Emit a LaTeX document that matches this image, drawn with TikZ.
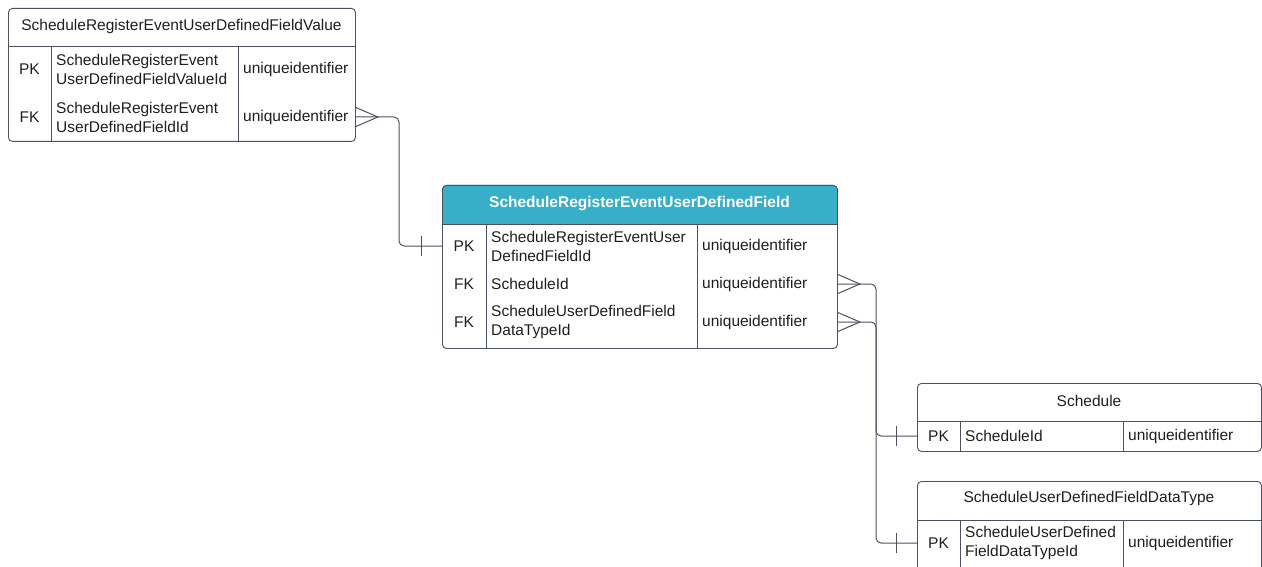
\documentclass[tikz,border=0pt]{standalone}
\usepackage{fontspec}
\setmainfont{Liberation Sans}
\usepackage{tikz}
\usetikzlibrary{calc}
\definecolor{erline}{HTML}{4B515D}
\definecolor{erhead}{HTML}{38AFC8}
\definecolor{ertext}{HTML}{1E1E1E}

\begin{document}
\begin{tikzpicture}[x=1pt,y=-1pt,
		tablebox/.style={draw=erline,line width=0.9pt,rounded corners=4pt,anchor=north west,inner sep=0pt},
		tablerule/.style={draw=erline,line width=0.9pt},
		tablehead/.style={font=\fontsize{15.5}{19}\selectfont,text=ertext},
		keycell/.style={font=\fontsize{15.5}{19}\selectfont,text=ertext},
		fieldcell/.style={anchor=west,align=left,inner sep=0pt,font=\fontsize{15.5}{19}\selectfont,text=ertext},
		relline/.style={draw=erline,line width=1pt,rounded corners=5pt},
		crowfoot/.style={draw=erline,line width=1pt}
		]
	\useasboundingbox (0,0) rectangle (1262,567);
	\clip (0,0) rectangle (1262,567);

	\node[tablebox,minimum width=347,minimum height=133](valT) at (8,8){};
	\draw[tablerule] (8,46) -- (355,46) (51,46) -- (51,141) (238,46) -- (238,141);
	\node[tablehead](valH) at (181.5,26){ScheduleRegisterEventUserDefinedFieldValue};
	\node[keycell](valPK) at (29.5,69){PK};
	\node[fieldcell](valPKn) at (56,69){ScheduleRegisterEvent\\UserDefinedFieldValueId};
	\node[fieldcell](valPKt) at (243,69){uniqueidentifier};
	\node[keycell](valFK) at (29.5,117){FK};
	\node[fieldcell](valFKn) at (56,117){ScheduleRegisterEvent\\UserDefinedFieldId};
	\node[fieldcell](valFKt) at (243,117){uniqueidentifier};

	\fill[erhead] (442,224) [rounded corners=4pt] -- (442,185) -- (837,185) [sharp corners] -- (837,224) -- cycle;
	\node[tablebox,minimum width=395,minimum height=163](udfT) at (442,185){};
	\draw[tablerule] (442,224) -- (837,224) (486,224) -- (486,348) (697,224) -- (697,348);
	\node[tablehead,text=white,font=\fontsize{15.5}{19}\selectfont\bfseries](udfH) at (639.5,204){ScheduleRegisterEventUserDefinedField};
	\node[keycell](udfPK) at (464,246){PK};
	\node[fieldcell](udfPKn) at (491,246){ScheduleRegisterEventUser\\DefinedFieldId};
	\node[fieldcell](udfPKt) at (702,246){uniqueidentifier};
	\node[keycell](udfFKa) at (464,284){FK};
	\node[fieldcell](udfFKan) at (491,284){ScheduleId};
	\node[fieldcell](udfFKat) at (702,284){uniqueidentifier};
	\node[keycell](udfFKb) at (464,322){FK};
	\node[fieldcell](udfFKbn) at (491,322){ScheduleUserDefinedField\\DataTypeId};
	\node[fieldcell](udfFKbt) at (702,322){uniqueidentifier};

	\node[tablebox,minimum width=344,minimum height=68](schT) at (917,383){};
	\draw[tablerule] (917,421) -- (1261,421) (960,421) -- (960,451) (1123,421) -- (1123,451);
	\node[tablehead](schH) at (1089,401){Schedule};
	\node[keycell](schPK) at (938.5,436){PK};
	\node[fieldcell](schPKn) at (965,436){ScheduleId};
	\node[fieldcell](schPKt) at (1128,436){uniqueidentifier};

	\node[tablebox,minimum width=344,minimum height=90](dtT) at (917,481){};
	\draw[tablerule] (917,520) -- (1261,520) (960,520) -- (960,571) (1123,520) -- (1123,571);
	\node[tablehead](dtH) at (1089,498){ScheduleUserDefinedFieldDataType};
	\node[keycell](dtPK) at (938.5,543){PK};
	\node[fieldcell](dtPKn) at (965,543){ScheduleUserDefined\\FieldDataTypeId};
	\node[fieldcell](dtPKt) at (1128,543){uniqueidentifier};

	\coordinate (j1) at (399,0);
	\coordinate (j2) at (876,0);
	\coordinate (f1) at (valT.east |- valFKt);
	\coordinate (f2) at (udfT.east |- udfFKat);
	\coordinate (f3) at (udfT.east |- udfFKbt);
	\coordinate (b1) at (udfT.west |- udfPKt);
	\coordinate (b2) at (schT.west |- schPKt);
	\coordinate (b3) at (dtT.west |- dtPKt);

	\draw[relline] (f1) -- (j1 |- f1) -- (j1 |- b1) -- (b1);
	\draw[relline] (f2) -- (j2 |- f2) -- (j2 |- b2) -- (b2);
	\draw[relline] (f3) -- (j2 |- f3) -- (j2 |- b3) -- (b3);
	\foreach \f in {f1,f2,f3}
		\draw[crowfoot] ($(\f)+(0,-9.5)$) -- ++(22,9.5) -- ++(-22,9.5);
	\foreach \b in {b1,b2,b3}
		\draw[crowfoot] ($(\b)+(-21,-10)$) -- ++(0,20);
\end{tikzpicture}
\end{document}
